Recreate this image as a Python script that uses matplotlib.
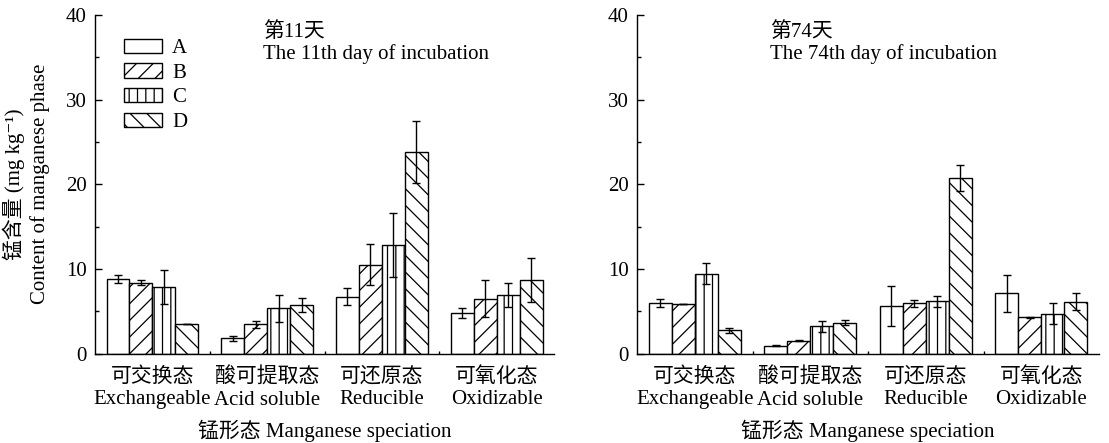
import numpy as np
import matplotlib
matplotlib.use("Agg")
import matplotlib.pyplot as plt
from matplotlib.ticker import MultipleLocator, FixedLocator

plt.rcParams['font.family'] = ['Liberation Serif', 'Noto Sans CJK SC', 'DejaVu Serif']
plt.rcParams['font.size'] = 15
plt.rcParams['hatch.linewidth'] = 0.9
plt.rcParams['axes.unicode_minus'] = False

# categories and series
cat_cn = ['可交换态', '酸可提取态', '可还原态', '可氧化态']
cat_en = ['Exchangeable', 'Acid soluble', 'Reducible', 'Oxidizable']
treatments = ['A', 'B', 'C', 'D']
hatches = ['', '//', '||', '\\\\']

# day 11 means and errors (mg/kg)
d11_A = [8.8, 1.8, 6.7, 4.8]
d11_B = [8.35, 3.45, 10.5, 6.5]
d11_C = [7.85, 5.35, 12.85, 6.9]
d11_D = [3.5, 5.7, 23.8, 8.7]
d11_A_err = [0.45, 0.3, 1.0, 0.6]
d11_B_err = [0.3, 0.4, 2.4, 2.2]
d11_C_err = [2.0, 1.6, 3.8, 1.4]
d11_D_err = [0.0, 0.85, 3.7, 2.6]

# day 74 means and errors (mg/kg)
d74_A = [5.95, 0.9, 5.6, 7.1]
d74_B = [5.85, 1.5, 5.95, 4.3]
d74_C = [9.45, 3.2, 6.2, 4.7]
d74_D = [2.75, 3.65, 20.75, 6.1]
d74_A_err = [0.45, 0.05, 2.35, 2.2]
d74_B_err = [0.05, 0.05, 0.4, 0.05]
d74_C_err = [1.25, 0.7, 0.65, 1.25]
d74_D_err = [0.3, 0.3, 1.55, 1.0]

panels = [
    ([d11_A, d11_B, d11_C, d11_D], [d11_A_err, d11_B_err, d11_C_err, d11_D_err],
     '第11天\nThe 11th day of incubation', 0.367),
    ([d74_A, d74_B, d74_C, d74_D], [d74_A_err, d74_B_err, d74_C_err, d74_D_err],
     '第74天\nThe 74th day of incubation', 0.287),
]

fig = plt.figure(figsize=(11.09, 4.43), dpi=100)
rects = [[0.0857, 0.202, 0.4139, 0.764], [0.5744, 0.202, 0.4166, 0.764]]

x = np.arange(1, len(cat_cn) + 1)
w = 0.2
labels = [c + '\n' + e for c, e in zip(cat_cn, cat_en)]

for i, (vals, errs, title, tx) in enumerate(panels):
    ax = fig.add_axes(rects[i])
    for j in range(4):
        pos = x + (j - 1.5) * w
        ax.bar(pos, vals[j], width=w, color='white', edgecolor='black',
               linewidth=1.0, hatch=hatches[j], label=treatments[j], zorder=2)
        ax.errorbar(pos, vals[j], yerr=errs[j], fmt='none', ecolor='black',
                    elinewidth=1.0, capsize=2.8, capthick=1.0, zorder=3)

    ax.set_xlim(0.5, 4.5)
    ax.set_ylim(0, 40)
    ax.yaxis.set_major_locator(MultipleLocator(10))
    ax.yaxis.set_minor_locator(MultipleLocator(5))
    ax.set_xticks(x)
    ax.set_xticklabels(labels)
    for lbl in ax.get_xticklabels():
        lbl.set_linespacing(1.22)
    ax.xaxis.set_minor_locator(FixedLocator([1.5, 2.5, 3.5]))
    ax.tick_params(axis='x', which='major', length=0, pad=10)
    ax.tick_params(axis='x', which='minor', direction='in', length=2.5, width=1.0)
    ax.tick_params(axis='y', which='major', direction='in', length=5, width=1.0, pad=6)
    ax.tick_params(axis='y', which='minor', direction='in', length=3, width=1.0)
    for s in ['top', 'right']:
        ax.spines[s].set_visible(False)
    for s in ['left', 'bottom']:
        ax.spines[s].set_linewidth(1.0)

    ax.text(tx, 0.918, title, transform=ax.transAxes, ha='left', va='center',
            linespacing=1.15)
    ax.set_xlabel('锰形态 Manganese speciation', labelpad=7)

    if i == 0:
        ax.set_ylabel('锰含量 (mg kg⁻¹)\nContent of manganese phase', linespacing=1.35)
        ax.yaxis.set_label_coords(-0.098, 0.5)
        ax.legend(loc='upper left', bbox_to_anchor=(0.063, 0.93), frameon=False,
                  borderpad=0, borderaxespad=0, handlelength=1.83,
                  handleheight=0.67, handletextpad=0.48, labelspacing=0.25)

fig.savefig('out.png', dpi=100)
